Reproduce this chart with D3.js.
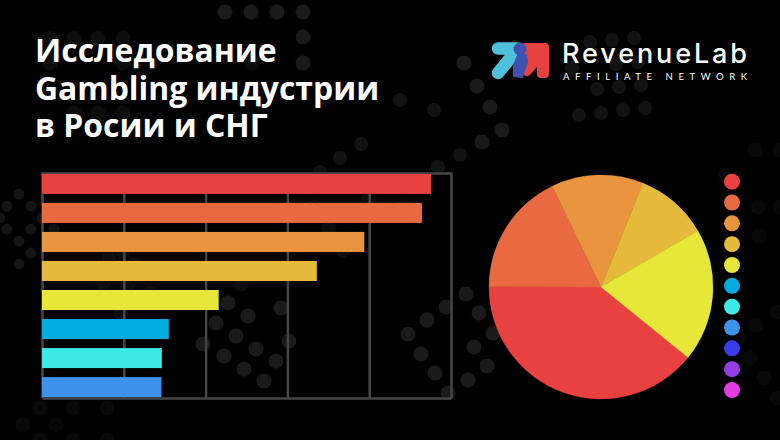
<!DOCTYPE html>
<html>
<head>
<meta charset="utf-8">
<script src="https://cdn.jsdelivr.net/npm/d3@7"></script>
<style>
  html, body { margin: 0; background: #000; }
  svg { display: block; }
</style>
</head>
<body>
<svg id="chart" width="780" height="440"></svg>
<script>
const titleLines = ["Исследование", "Gambling индустрии", "в Росии и СНГ"];

const categories = ["a", "b", "c", "d", "e", "f", "g", "h"];
const barValues = [47.55, 46.45, 39.4, 33.6, 21.6, 15.5, 14.65, 14.6];
const xTicks = [0, 10, 20, 30, 40, 50];

const pieValues = [39.2, 17.8, 13.3, 10.5, 19.2];

const colors = ["#e94040", "#e96a40", "#e9943e", "#e6ba3b", "#e7e73a", "#00abe0",
  "#3deae6", "#3e92ea", "#3c3cea", "#943ce6", "#e63ce6"];

// background pattern, x / y pairs
const dotsBright = [[225,12],[251,12],[277,12],[303,12],[303,37],[303,63],
  [228,303],[281,308],[248,316],[216,323],[236,336],[203,344],[289,341],[256,349],
  [224,356],[276,361],[244,369],[264,381],
  [466,294],[446,307],[427,320],[408,334],[421,354],[435,373],[448,393],[479,313],
  [493,333],[474,347],[487,366],[468,380],
  [464,63],[477,86],[490,107],[502,130],[482,142]];
const dotsMid = [[590,42],[612,40],[634,38],[572,68],[616,64],[638,62],
  [597,89],[619,87],[641,85],[579,115],[601,113],[623,110],[645,108],
  [400,100],[434,110],[361,144],[340,158],[320,172],[460,155],[438,167]];
const dotsDim = [[252,63],[50,38],[74,38],[98,38],[123,38],[50,63],[123,63],[74,113],[98,113],[123,113],
  [369,199],[314,207],[404,207],[329,228],[343,250],
  [109,258],[123,252],[133,265],[103,283],[127,288],[150,293],[241,284],[121,313]];
const dotsFaint = [[40,408],[73,408],[107,408],[23,425],[56,425],[40,440],[73,440],[107,440],
  [755,150],[780,150],[726,175],[758,207],[780,207],[759,236],[777,312],[756,325],
  [738,338],[750,358],[764,378],[777,398]];
const dotsSmall = [[19,194],[7,206],[31,206],[0,218],[42,218],[7,229],[31,229],[54,229],
  [19,241],[31,253],[19,264]];

const svg = d3.select("#chart");

svg.append("rect").attr("width", 780).attr("height", 440).attr("fill", "#000");

const addDots = (list, r, opacity) => {
  svg.append("g")
    .selectAll("circle")
    .data(list)
    .enter()
    .append("circle")
    .attr("cx", (d) => d[0])
    .attr("cy", (d) => d[1])
    .attr("r", r)
    .attr("fill", "#fff")
    .attr("opacity", opacity);
};
addDots(dotsBright, 7.5, 0.1);
addDots(dotsMid, 7, 0.07);
addDots(dotsDim, 7.5, 0.05);
addDots(dotsFaint, 7.5, 0.03);
addDots(dotsSmall, 5.5, 0.08);

// title
svg.append("g")
  .selectAll("text")
  .data(titleLines)
  .enter()
  .append("text")
  .attr("x", 35)
  .attr("y", (d, i) => 62 + i * 37.5)
  .attr("fill", "#fff")
  .style("font-family", "'Open Sans'")
  .style("font-weight", 700)
  .style("font-size", "31.9px")
  .text((d) => d);

// logo
const logo = svg.append("g").attr("stroke-linejoin", "round").attr("stroke-linecap", "round");
logo.append("path")
  .attr("d", "M525,47 L545,47 L545,74 L541,74 L541,57 L527,72 Z")
  .attr("fill", "#e94040").attr("stroke", "#e94040").attr("stroke-width", 8);
logo.append("path")
  .attr("d", "M498,48.5 L518,48.5 L498,73")
  .attr("fill", "none").attr("stroke", "#4fc0dc").attr("stroke-width", 12.5);
logo.append("path")
  .attr("d", "M518,55 L526,55 L527,62 L522,77 L514,76 L514,65 Z")
  .attr("fill", "#3f51b0").attr("stroke", "#3f51b0").attr("stroke-width", 2);
logo.append("circle").attr("cx", 520).attr("cy", 49).attr("r", 6.5).attr("fill", "#3f51b0");

svg.append("text")
  .attr("x", 562)
  .attr("y", 63)
  .attr("fill", "#fff")
  .attr("textLength", 185)
  .style("font-family", "Inter")
  .style("font-weight", 500)
  .style("font-size", "27px")
  .text("RevenueLab");

svg.append("text")
  .attr("x", 563)
  .attr("y", 80)
  .attr("fill", "#fff")
  .attr("textLength", 184)
  .style("font-family", "Lato")
  .style("font-size", "9.5px")
  .text("AFFILIATE NETWORK");

// bars
const margin = { top: 173, right: 329, bottom: 42, left: 42 };
const width = 780;
const height = 440;

const x = d3.scaleLinear()
  .domain([0, 50])
  .range([margin.left, width - margin.right]);

const y = d3.scaleBand()
  .domain(categories)
  .range([margin.top, height - margin.bottom])
  .paddingInner(0.31)
  .paddingOuter(0.03);

const gridColor = "#464646";

svg.append("g")
  .attr("class", "x-grid")
  .attr("transform", `translate(0,${height - margin.bottom})`)
  .call(d3.axisBottom(x).tickValues(xTicks).tickFormat("")
    .tickSize(-(height - margin.top - margin.bottom)).tickSizeOuter(0))
  .call((g) => g.selectAll("line").attr("stroke", gridColor).attr("stroke-width", 2.5))
  .call((g) => g.select(".domain").attr("stroke", gridColor).attr("stroke-width", 2.5));

svg.append("line")
  .attr("x1", margin.left - 1).attr("x2", width - margin.right + 1.5)
  .attr("y1", margin.top + 0.5).attr("y2", margin.top + 0.5)
  .attr("stroke", gridColor).attr("stroke-width", 2.5);

svg.selectAll(".bar")
  .data(barValues)
  .enter()
  .append("rect")
  .attr("class", "bar")
  .attr("x", x(0))
  .attr("y", (d, i) => y(categories[i]))
  .attr("width", (d) => x(d) - x(0))
  .attr("height", y.bandwidth())
  .attr("fill", (d, i) => colors[i]);

// pie
const radius = 112;
const startAngle = 129 * Math.PI / 180;
const pie = d3.pie().sort(null).startAngle(startAngle).endAngle(startAngle + 2 * Math.PI);
const arc = d3.arc().innerRadius(0).outerRadius(radius);

svg.append("g")
  .attr("transform", "translate(601,287)")
  .selectAll("path")
  .data(pie(pieValues))
  .enter()
  .append("path")
  .attr("d", arc)
  .attr("fill", (d, i) => colors[i])
  .attr("stroke", (d, i) => colors[i])
  .attr("stroke-width", 0.4);

// legend dots
const legendY = d3.scalePoint()
  .domain(d3.range(colors.length))
  .range([181.7, 390]);

svg.append("g")
  .selectAll("circle")
  .data(colors)
  .enter()
  .append("circle")
  .attr("cx", 732)
  .attr("cy", (d, i) => legendY(i))
  .attr("r", 8)
  .attr("fill", (d) => d);
</script>
</body>
</html>
